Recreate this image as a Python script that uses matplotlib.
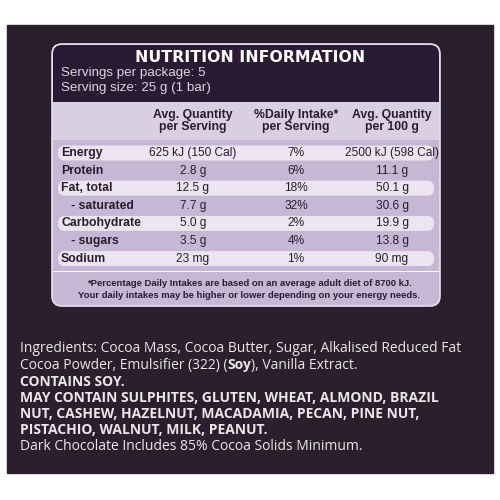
import matplotlib
matplotlib.use("Agg")
import matplotlib.pyplot as plt
from matplotlib.patches import FancyBboxPatch, Rectangle

title = "NUTRITION INFORMATION"
servings = ["Servings per package: 5", "Serving size: 25 g (1 bar)"]
col_headers = ["Avg. Quantity\nper Serving", "%Daily Intake*\nper Serving", "Avg. Quantity\nper 100 g"]
nutrients = ["Energy", "Protein", "Fat, total", "   - saturated", "Carbohydrate", "   - sugars", "Sodium"]
per_serving = ["625 kJ (150 Cal)", "2.8 g", "12.5 g", "7.7 g", "5.0 g", "3.5 g", "23 mg"]
daily_intake = ["7%", "6%", "18%", "32%", "2%", "4%", "1%"]
per_100g = ["2500 kJ (598 Cal)", "11.1 g", "50.1 g", "30.6 g", "19.9 g", "13.8 g", "90 mg"]
footnote = ["*Percentage Daily Intakes are based on an average adult diet of 8700 kJ.",
            "Your daily intakes may be higher or lower depending on your energy needs."]

fig = plt.figure(figsize=(5, 5), dpi=100)
ax = fig.add_axes([0, 0, 1, 1])
ax.set_xlim(0, 500); ax.set_ylim(500, 0); ax.axis("off")
fig.patch.set_facecolor("white")

ax.add_patch(Rectangle((7, 25), 486, 448, color="#2b1f2e", zorder=0))
ax.add_patch(FancyBboxPatch((52, 44), 388, 262, boxstyle="round,pad=0,rounding_size=10",
                            fc="#c6b8d4", ec="#e8e0ee", lw=1.2, zorder=1))
ax.add_patch(FancyBboxPatch((53, 45), 386, 56, boxstyle="round,pad=0,rounding_size=9",
                            fc="#2a1a33", ec="none", zorder=2))
ax.add_patch(Rectangle((53, 90), 386, 12, fc="#2a1a33", ec="none", zorder=2))
ax.add_patch(Rectangle((53, 102), 386, 38, fc="#d9cfe2", ec="none", zorder=2))

narrow = ["Liberation Sans", "DejaVu Sans"]
dark = "#2a1c30"
ax.text(250, 58, title, color="white", fontsize=11.3, fontweight="bold",
        ha="center", va="center", family=["DejaVu Sans"], zorder=3)
for i, s in enumerate(servings):
    ax.text(61, 73 + i * 15, s, color="#dcd4e0", fontsize=9.6, ha="left", va="center",
            family=narrow, zorder=3)

xs = [193, 296, 392]
for x, h in zip(xs, col_headers):
    ax.text(x, 121, h, color=dark, fontsize=8.8, fontweight="bold", ha="center", va="center",
            family=narrow, linespacing=1.05, zorder=3)

y0, dy = 153, 17.6
for i, (n, a, d, b) in enumerate(zip(nutrients, per_serving, daily_intake, per_100g)):
    y = y0 + i * dy
    if i % 2 == 0:
        ax.add_patch(FancyBboxPatch((58, y - 7.5), 376, 15, boxstyle="round,pad=0,rounding_size=7",
                                    fc="#ebe5ef", ec="none", zorder=2))
    ax.text(61, y, n, color=dark, fontsize=8.8, fontweight="bold", ha="left", va="center",
            family=narrow, zorder=3)
    for x, v in zip(xs, [a, d, b]):
        ax.text(x, y, v, color=dark, fontsize=8.6, ha="center", va="center", family=narrow, zorder=3)

ax.add_patch(Rectangle((53, 271), 386, 1, fc="#ffffff", ec="none", zorder=2))
for i, f in enumerate(footnote):
    ax.text(249, 283 + i * 13, f, color=dark, fontsize=6.8, fontweight="bold", ha="center",
            va="center", family=narrow, zorder=3)

sans = ["Open Sans", "DejaVu Sans"]
fs = 10.0
col = "#ece6e8"
ax.text(20, 349, "Ingredients: Cocoa Mass, Cocoa Butter, Sugar, Alkalised Reduced Fat",
        color=col, fontsize=fs, ha="left", va="center", family=sans, zorder=3)
# line 2 with bold "Soy"
renderer = fig.canvas.get_renderer()
parts = [("Cocoa Powder, Emulsifier (322) (", "normal"), ("Soy", "bold"), ("), Vanilla Extract.", "normal")]
x = 20
inv = ax.transData.inverted()
for t, w in parts:
    txt = ax.text(x, 349 + 16.3, t, color=col, fontsize=fs, fontweight=w, ha="left",
                  va="center", family=sans, zorder=3)
    bb = txt.get_window_extent(renderer)
    x = inv.transform((bb.x1, bb.y0))[0]
rest = [
    ("CONTAINS SOY.", "bold"),
    ("MAY CONTAIN SULPHITES, GLUTEN, WHEAT, ALMOND, BRAZIL", "bold"),
    ("NUT, CASHEW, HAZELNUT, MACADAMIA, PECAN, PINE NUT,", "bold"),
    ("PISTACHIO, WALNUT, MILK, PEANUT.", "bold"),
    ("Dark Chocolate Includes 85% Cocoa Solids Minimum.", "normal"),
]
for i, (t, w) in enumerate(rest):
    ax.text(20, 349 + (i + 2) * 16.3, t, color=col, fontsize=fs, fontweight=w,
            ha="left", va="center", family=sans, zorder=3)

fig.savefig("out.png", dpi=100, facecolor="white")
